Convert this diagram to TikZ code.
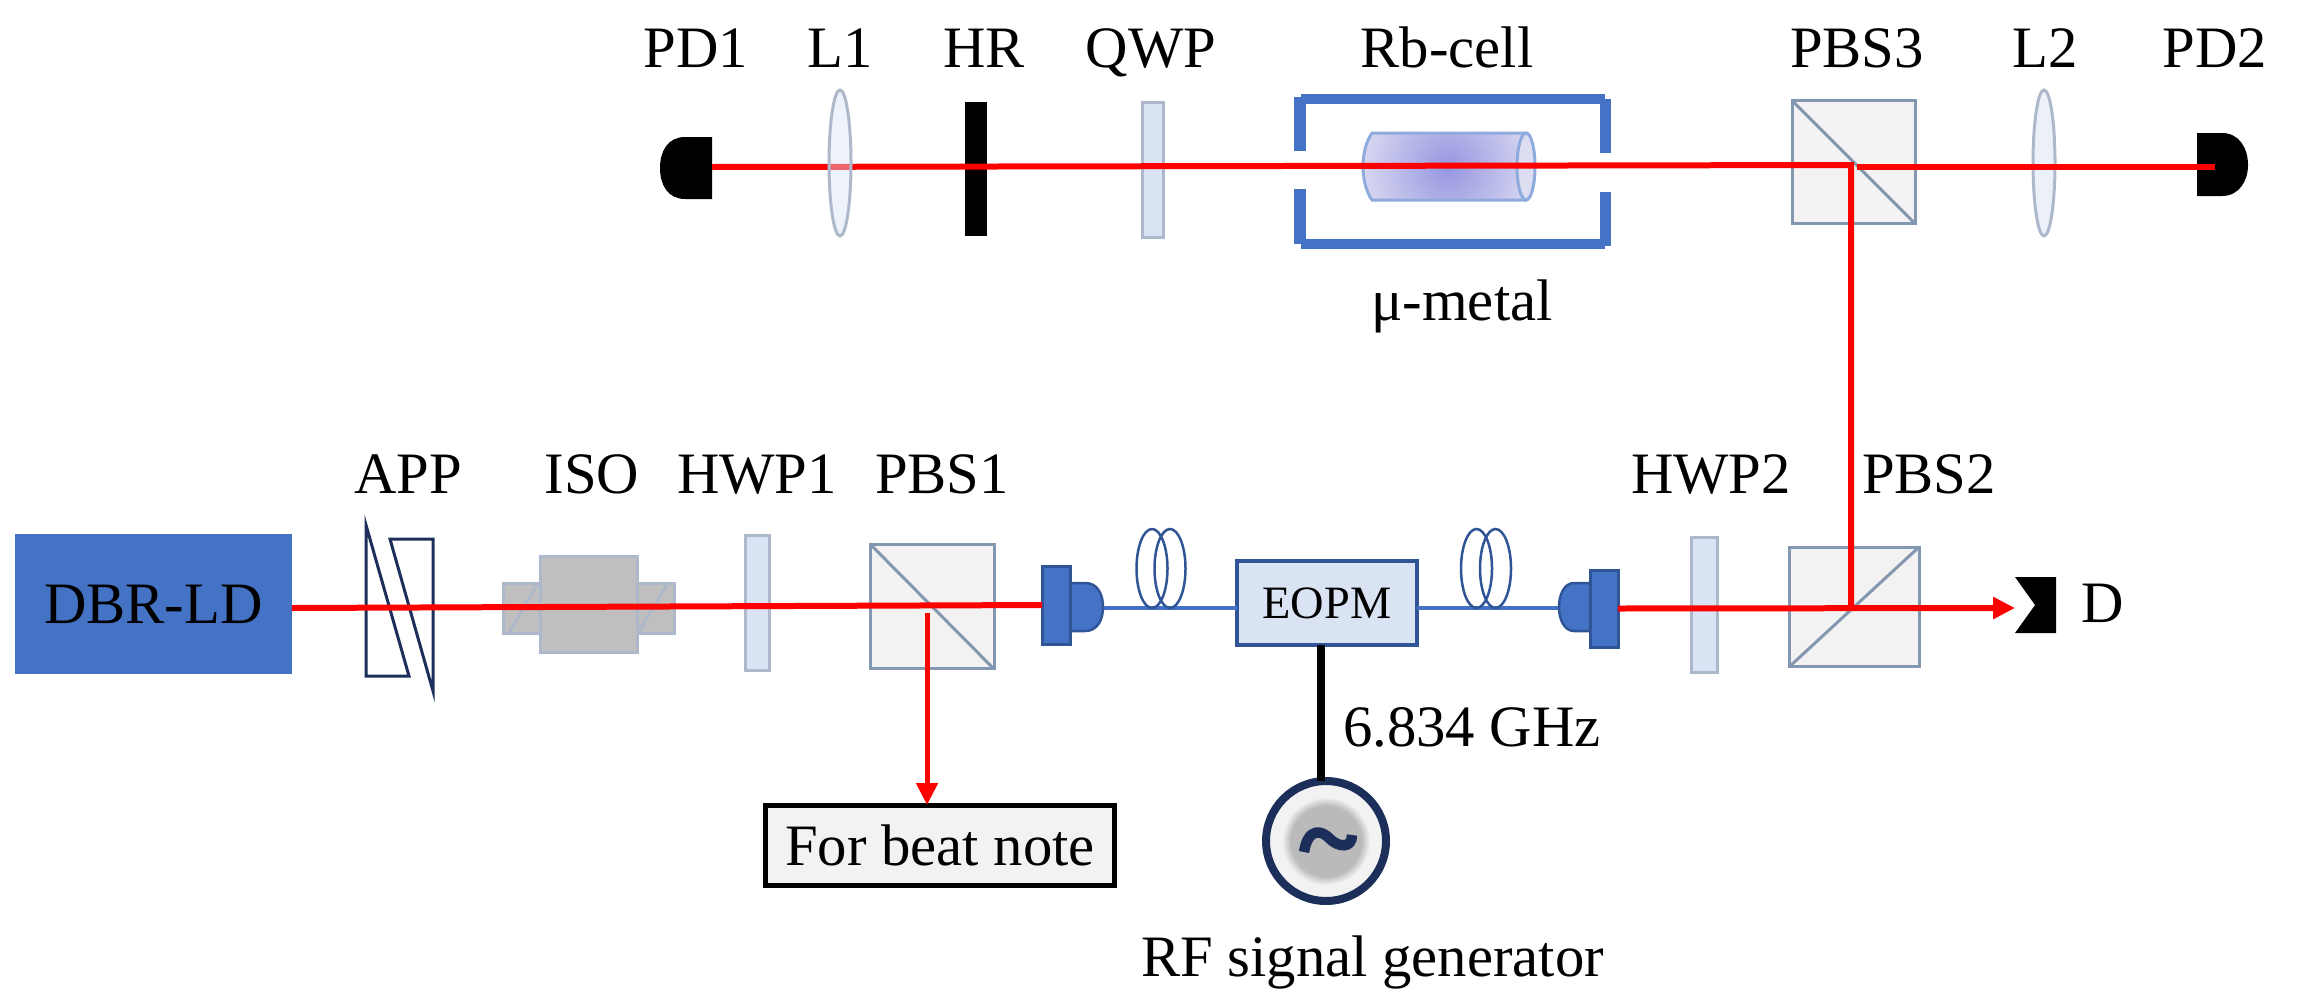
\documentclass[tikz,border=0pt]{standalone}
\usepackage{fontspec}
\setmainfont{Liberation Serif}
\usetikzlibrary{arrows.meta,positioning,shapes.geometric}
\definecolor{ldblue}{HTML}{4472C4}
\definecolor{darkblue}{HTML}{2F5597}
\definecolor{navy}{HTML}{1C2F5A}
\definecolor{paleblue}{HTML}{DAE3F3}
\definecolor{edgegray}{HTML}{ADB9CA}
\definecolor{cubeedge}{HTML}{8497B0}
\definecolor{cubefill}{HTML}{F2F2F2}
\definecolor{cellblue}{HTML}{8FAADC}
\definecolor{cellcore}{HTML}{9696E0}
\definecolor{celledge}{HTML}{DEDEF3}
\definecolor{discgray}{HTML}{BABABA}
\pgfdeclareradialshading{rfdisc}{\pgfpoint{0bp}{0bp}}{color(0bp)=(discgray); color(20bp)=(discgray); color(25bp)=(cubefill); color(50bp)=(cubefill)}
\newcommand{\pxfont}{\fontsize{33.4}{36}\selectfont}
\begin{document}
\begin{tikzpicture}[
  x=0.02cm, y=-0.02cm,
  every node/.style={inner sep=0pt, outer sep=0pt},
  lab/.style={font=\pxfont, anchor=base},
  plate/.style={draw=edgegray, fill=paleblue, line width=0.06cm, minimum width=0.42cm},
  lens/.style={ellipse, draw=edgegray, fill=paleblue!50, line width=0.06cm, minimum width=0.44cm, minimum height=2.92cm},
  cube/.style={draw=cubeedge, fill=cubefill, line width=0.06cm},
  isobox/.style={draw=edgegray, fill=black!25, line width=0.06cm},
  beam/.style={draw=red, line width=0.12cm},
  fibre/.style={draw=ldblue, line width=0.07cm},
  coil/.style={ellipse, draw=darkblue, line width=0.05cm, minimum width=0.62cm, minimum height=1.58cm},
  shield/.style={draw=none, fill=ldblue},
  >={Triangle[length=0.44cm, width=0.42cm]},
]
  \useasboundingbox (0,0) rectangle (2304,1004);

  % upper line
  \node[plate, fill=black, draw=none, minimum width=0.44cm, minimum height=2.68cm] (hr) at (976,169) {};
  \node[plate, minimum height=2.7cm] (qwp) at (1153,170) {};
  \node[lens] (ltwo) at (2044,163) {};
  \node[cube, minimum width=2.46cm, minimum height=2.46cm] (pbsthree) at (1853.5,162) {};
  \draw[cubeedge, line width=0.06cm] (pbsthree.north west) -- (pbsthree.south east);

  \fill[black] (712,137) -- (712,199) -- (685,199) .. controls (668,199) and (660,185) .. (660,168) .. controls (660,151) and (668,137) .. (685,137) -- cycle;
  \fill[black] (2197,133) -- (2197,196) -- (2222,196) .. controls (2239,196) and (2248,181) .. (2248,165) .. controls (2248,148) and (2239,133) .. (2222,133) -- cycle;
  \coordinate (pdone) at (712,167);
  \coordinate (pdtwo) at (2215,167);
  \coordinate (turnup) at (1851,165);
  \coordinate (splitup) at (1851,608);
  \coordinate (exitthree) at (1857,167);

  % Rb cell in its shield
  \begin{scope}
    \clip (1527,133) -- (1372,133) .. controls (1360,150) and (1360,183) .. (1372,200) -- (1527,200) -- cycle;
    \shade[inner color=cellcore, outer color=celledge] (1448,167) circle (95);
  \end{scope}
  \draw[cellblue, line width=0.06cm] (1527,133) -- (1372,133) .. controls (1360,150) and (1360,183) .. (1372,200) -- (1527,200);
  \node[ellipse, draw=cellblue, fill=celledge, line width=0.06cm, minimum width=0.36cm, minimum height=1.34cm] (cell) at (1526,166.5) {};
  \fill[shield] (1294,97) rectangle (1306,151);
  \fill[shield] (1294,189) rectangle (1306,244);
  \fill[shield] (1301,94) rectangle (1605,104);
  \fill[shield] (1301,239) rectangle (1605,249);
  \fill[shield] (1600,99) rectangle (1611,153);
  \fill[shield] (1600,192) rectangle (1611,246);

  % lower line
  \node[draw=none, fill=ldblue, minimum width=5.54cm, minimum height=2.8cm, font=\pxfont] (ld) at (153.5,604) {DBR-LD};
  \draw[navy, line width=0.06cm, line join=miter] (366,525) -- (366,676) -- (409,676) -- cycle;
  \draw[navy, line width=0.06cm, line join=miter] (390,539) -- (433,539) -- (433,691) -- cycle;

  \node[isobox, minimum width=0.74cm, minimum height=1cm] (isol) at (522,608) {};
  \node[isobox, minimum width=0.74cm, minimum height=1cm] (isor) at (655.5,608) {};
  \node[isobox, minimum width=1.94cm, minimum height=1.92cm] (iso) at (588.5,604) {};
  \draw[edgegray, line width=0.06cm] (509,633) -- (538,583);
  \draw[edgegray, line width=0.06cm] (638,633) -- (668,583);

  \node[plate, minimum width=0.48cm, minimum height=2.72cm] (hwpone) at (757,603) {};
  \node[cube, minimum width=2.48cm, minimum height=2.5cm] (pbsone) at (932,606.5) {};
  \draw[cubeedge, line width=0.06cm] (pbsone.north west) -- (pbsone.south east);
  \node[plate, minimum width=0.52cm, minimum height=2.72cm] (hwptwo) at (1704,605) {};
  \node[cube, minimum width=2.6cm, minimum height=2.4cm] (pbstwo) at (1854,607) {};
  \draw[cubeedge, line width=0.06cm] (pbstwo.south west) -- (pbstwo.north east);

  % collimators and fibre
  \coordinate (fibleft) at (1103,608);
  \coordinate (fibright) at (1559,608);
  \coordinate (detd) at (2015,608);
  \node[draw=darkblue, fill=paleblue, line width=0.07cm, minimum width=3.6cm, minimum height=1.68cm, font=\fontsize{26.4}{28}\selectfont] (eopm) at (1327,603) {EOPM};
  \coordinate (eopmin) at (eopm.west |- fibleft);
  \coordinate (eopmout) at (eopm.east |- fibright);
  \draw[fibre] (fibleft) -- (eopmin);
  \draw[fibre] (eopmout) -- (fibright);
  \fill[ldblue, draw=darkblue, line width=0.05cm] (1070,583) -- (1085,583) .. controls (1098,583) and (1103,595) .. (1103,607) .. controls (1103,619) and (1098,631) .. (1085,631) -- (1070,631) -- cycle;
  \node[draw=darkblue, fill=ldblue, line width=0.06cm, minimum width=0.56cm, minimum height=1.56cm] (colone) at (1056,605) {};
  \fill[ldblue, draw=darkblue, line width=0.05cm] (1590,583) -- (1574,583) .. controls (1564,583) and (1559,595) .. (1559,607) .. controls (1559,619) and (1564,631) .. (1574,631) -- (1590,631) -- cycle;
  \node[draw=darkblue, fill=ldblue, line width=0.06cm, minimum width=0.56cm, minimum height=1.54cm] (coltwo) at (1604,608.5) {};

  \node[coil] (coila) at (1152,568.5) {};
  \node[coil] (coilb) at (1170,568.5) {};
  \node[coil] (coilc) at (1476.5,568.5) {};
  \node[coil] (coild) at (1495.5,568.5) {};

  % beams
  \draw[beam] (pdone) -- (turnup) -- (splitup);
  \draw[beam] (exitthree) -- (pdtwo);
  \node[lens, fill=paleblue, fill opacity=0.45] (lone) at (840,163) {};
  \draw[beam] (ld.east |- fibleft) -- (colone.west);
  \draw[beam, ->] (coltwo.east) -- (detd);

  % detector with notch
  \fill[black] (2015,577) -- (2056,577) -- (2056,633) -- (2015,633) -- (2035,605) -- cycle;

  % beat note and generator
  \node[draw=black, fill=cubefill, line width=0.1cm, minimum width=6.98cm, minimum height=1.6cm, font=\pxfont] (beat) at (940,845) {For beat note};
  \coordinate (pick) at (927,613);
  \draw[red, line width=0.1cm, ->] (pick) -- (pick |- beat.north);

  \coordinate (stem) at (1321,645);
  \node[circle, draw=navy, fill=cubefill, line width=0.16cm, minimum size=2.4cm] (rf) at (1326,841) {};
  \shade[shading=rfdisc] (rf.center) circle (44);
  \draw[black, line width=0.16cm] (stem) -- (stem |- rf.north);
  \draw[navy, line width=0.21cm] (1304,852) .. controls (1308,827) and (1322,830) .. (1330,839) .. controls (1338,847) and (1352,849) .. (1352,835);

  % labels
  \node[lab] (tpdone) at (696,67) {PD1};
  \node[lab] (tlone) at (840,67) {L1};
  \node[lab] (thr) at (984,67) {HR};
  \node[lab] (tqwp) at (1151,67) {QWP};
  \node[lab] (trb) at (1447,67) {Rb-cell};
  \node[lab] (tpbsthree) at (1857,67) {PBS3};
  \node[lab] (tltwo) at (2045,67) {L2};
  \node[lab] (tpdtwo) at (2215,67) {PD2};
  \node[lab] (tmu) at (1462,320) {μ-metal};
  \node[lab] (tapp) at (408,493) {APP};
  \node[lab] (tiso) at (592,493) {ISO};
  \node[lab] (thwpone) at (757,493) {HWP1};
  \node[lab] (tpbsone) at (942,493) {PBS1};
  \node[lab] (thwptwo) at (1711,493) {HWP2};
  \node[lab] (tpbstwo) at (1929,493) {PBS2};
  \node[lab] (td) at (2103,622) {D};
  \node[lab, anchor=base west] (tghz) at (1343,746) {6.834 GHz};
  \node[lab] (trf) at (1372.5,976) {RF signal generator};
\end{tikzpicture}
\end{document}
